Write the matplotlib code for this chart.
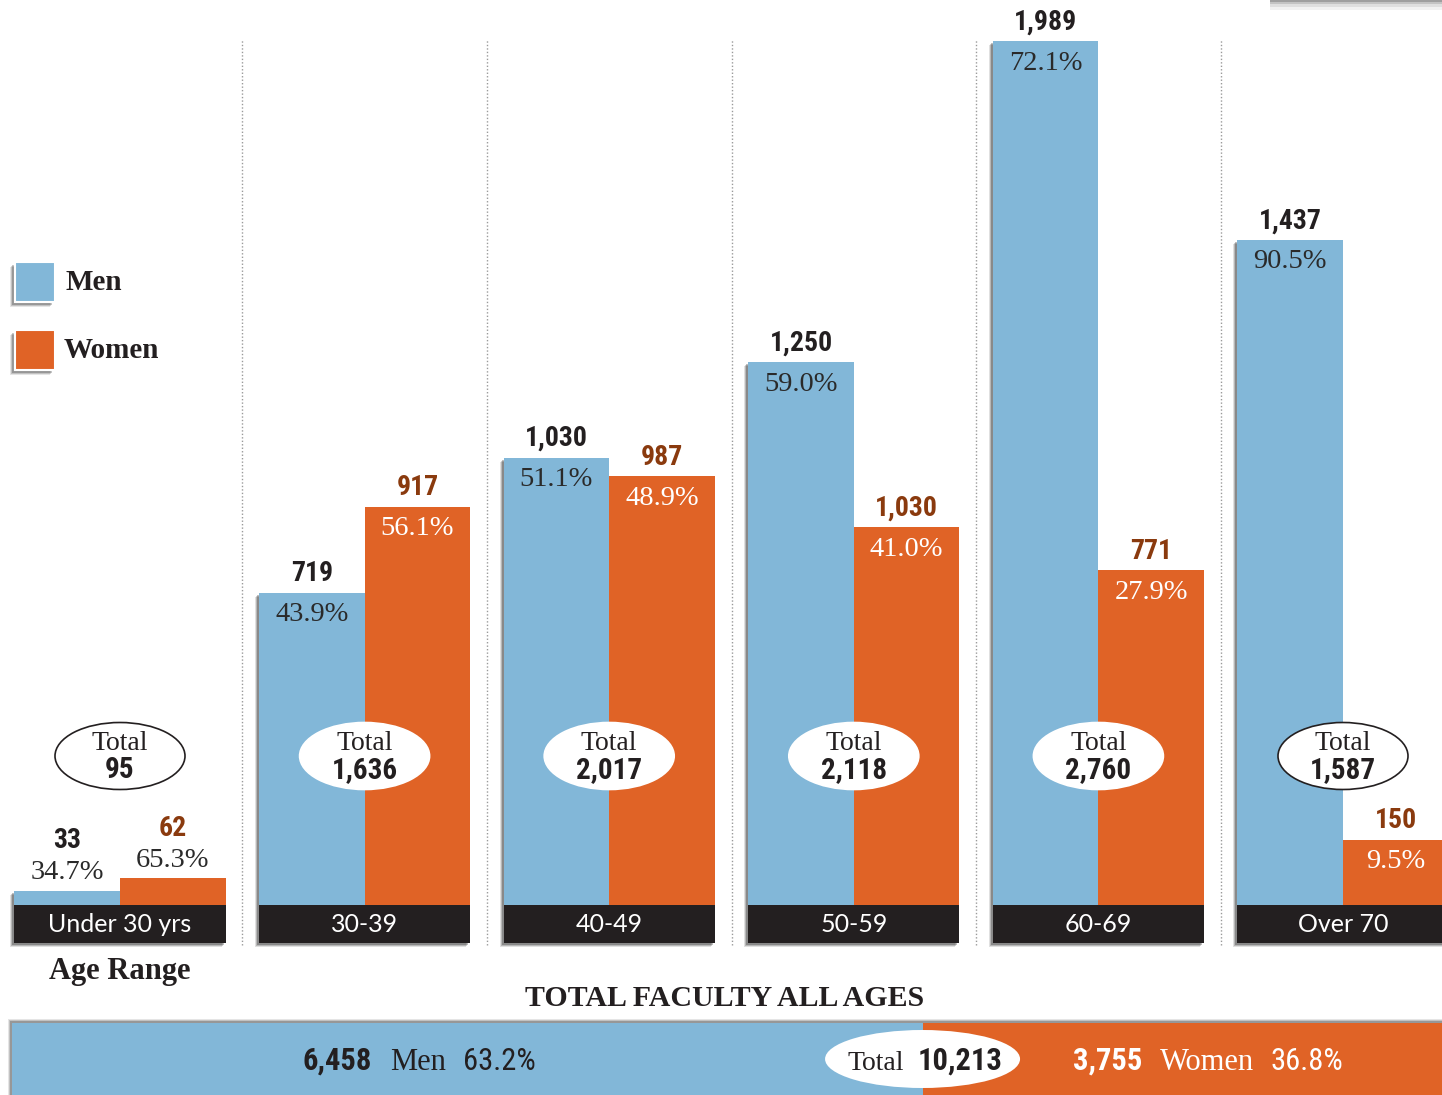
import numpy as np
import matplotlib.pyplot as plt
from matplotlib import font_manager as fm
from matplotlib.patches import Rectangle, Ellipse

# ---- data ----
age_groups = ['Under 30 yrs', '30-39', '40-49', '50-59', '60-69', 'Over 70']
# printed counts
men = [33, 719, 1030, 1250, 1989, 1437]
women = [62, 917, 987, 1030, 771, 150]
# bar heights as drawn in the graphic (two bars do not match their printed counts)
men_bar = [33, 719, 1030, 1250, 1989, 1531]
women_bar = [62, 917, 987, 870, 771, 150]
men_pct = ['34.7%', '43.9%', '51.1%', '59.0%', '72.1%', '90.5%']
women_pct = ['65.3%', '56.1%', '48.9%', '41.0%', '27.9%', '9.5%']
totals = [95, 1636, 2017, 2118, 2760, 1587]
total_men = 6458
total_women = 3755
total_all = 10213
total_men_pct = '63.2%'
total_women_pct = '36.8%'

# ---- style ----
BLUE = '#82b7d8'
ORANGE = '#e06326'
DARK = '#231f20'
BROWN = '#8a3a0e'
SERIF = 'Liberation Serif'
SANS = 'Lato'


def pick_narrow():
    # a condensed sans for the numbers, whichever one is installed
    entries = fm.fontManager.ttflist
    names = {f.name for f in entries}
    for n in ['Liberation Sans Narrow', 'Roboto Condensed', 'Open Sans Condensed',
              'DejaVu Sans Condensed']:
        if n in names:
            return dict(family=n), 1.0
    if any(f.name == 'DejaVu Sans' and 'condensed' in str(f.stretch) for f in entries):
        return dict(family='DejaVu Sans', stretch='condensed'), 0.92
    return dict(family='Roboto'), 0.88


NARROW, NSCALE = pick_narrow()

W, H = 1442, 1095
XP = 1 / 244.6          # data units per pixel (x)
YP = 1989 / 864         # data units per pixel (y)
BW = 105.6 * XP         # bar width


def fx(px):
    return px / W


def fy(py):
    return 1 - py / H


def fmt(v):
    return f'{v:,}'


def nfont(size, bold=True):
    d = dict(NARROW)
    d['fontsize'] = size * NSCALE
    if bold:
        d['weight'] = 'bold'
    return d


fig = plt.figure(figsize=(W / 100, H / 100), dpi=100)
fig.patch.set_facecolor('white')
ax = fig.add_axes([0, 0, 1, 1])
ax.set_xlim(-120 * XP, -120 * XP + W * XP)
ax.set_ylim(-(H - 905) * YP, 905 * YP)
ax.axis('off')

x = np.arange(len(age_groups))

# separators
for i in range(len(age_groups) - 1):
    ax.plot([i + 0.5, i + 0.5], [-40 * YP, 865 * YP], color='#9a9a9a',
            lw=1, ls=(0, (1, 1.5)), zorder=0)

# shadows
box_h = 38 * YP
for i in x:
    for k, a in [(4, 0.12), (3, 0.18), (2, 0.25)]:
        dx, dy = k * XP, k * YP
        ax.add_patch(Rectangle((i - BW - dx, -box_h - dy), 2 * BW, box_h, color='black',
                               alpha=a, lw=0, zorder=1))
        ax.add_patch(Rectangle((i - BW - dx, -dy), BW, men_bar[i], color='black',
                               alpha=a, lw=0, zorder=1))

ax.bar(x - BW / 2, men_bar, BW, color=BLUE, zorder=2, lw=0)
ax.bar(x + BW / 2, women_bar, BW, color=ORANGE, zorder=2, lw=0)

# label boxes
for i, g in enumerate(age_groups):
    ax.add_patch(Rectangle((i - BW, -box_h), 2 * BW, box_h, color=DARK, zorder=3, lw=0))
    ax.text(i, -box_h / 2, g, ha='center', va='center', color='white',
            fontsize=18, family=SANS, zorder=4)

# value labels
for i in x:
    for h, val, pct, xc, num_col, in_col in [
            (men_bar[i], men[i], men_pct[i], i - BW / 2, DARK, '#2a2a2a'),
            (women_bar[i], women[i], women_pct[i], i + BW / 2, BROWN, 'white')]:
        if h / YP < 50:
            ax.text(xc, h + 18 * YP, pct, ha='center', va='center', color='#2a2a2a',
                    fontsize=20.5, family=SERIF, zorder=4)
            ax.text(xc, h + 50 * YP, fmt(val), ha='center', va='center', color=num_col,
                    zorder=4, **nfont(20))
        else:
            ax.text(xc, h - 22 * YP, pct, ha='center', va='center', color=in_col,
                    fontsize=20.5, family=SERIF, zorder=4)
            ax.text(xc, h + 19 * YP, fmt(val), ha='center', va='center', color=num_col,
                    zorder=4, **nfont(20))

# total ellipses
ey = (905 - 756) * YP
for i, t in enumerate(totals):
    edge = DARK if i in (0, len(totals) - 1) else 'white'
    ax.add_patch(Ellipse((i, ey), 130 * XP, 67 * YP, facecolor='white',
                         edgecolor=edge, lw=1.2, zorder=5))
    ax.text(i, ey + 13 * YP, 'Total', ha='center', va='center', fontsize=20,
            family=SERIF, color=DARK, zorder=6)
    ax.text(i, ey - 14 * YP, fmt(t), ha='center', va='center', color=DARK, zorder=6,
            **nfont(21))

# legend
for py, col, lab, tx in [(262, BLUE, 'Men', 66), (330, ORANGE, 'Women', 64)]:
    for k, a in [(5, 0.10), (4, 0.15), (3, 0.22)]:
        fig.add_artist(Rectangle((fx(15 - k), fy(py + 40 + k)), 40 / W, 40 / H,
                                 transform=fig.transFigure, color='black', alpha=a, lw=0))
    fig.add_artist(Rectangle((fx(15), fy(py + 40)), 40 / W, 40 / H,
                             transform=fig.transFigure, facecolor=col, edgecolor='white', lw=1.5))
    fig.text(fx(tx), fy(py + 20), lab, ha='left', va='center', fontsize=21,
             family=SERIF, weight='bold', color=DARK)

fig.text(fx(120), fy(971), 'Age Range', ha='center', va='center', fontsize=22,
         family=SERIF, weight='bold', color=DARK)
fig.text(fx(725), fy(998), 'TOTAL FACULTY ALL AGES', ha='center', va='center',
         fontsize=21.5, family=SERIF, weight='bold', color=DARK)

# top-right shadow
for k, a in [(10, 0.05), (7, 0.08), (4, 0.12), (2, 0.18)]:
    fig.add_artist(Rectangle((fx(1270), fy(k)), 200 / W, k / H,
                             transform=fig.transFigure, color='black', alpha=a, lw=0))

# bottom total bar (shadow behind it)
for k, a in [(4, 0.10), (3, 0.15), (2, 0.22)]:
    fig.add_artist(Rectangle((fx(12 - k), 0), 1500 / W, (72 + k) / H,
                             transform=fig.transFigure, color='black', alpha=a, lw=0,
                             zorder=-1))
bx = fig.add_axes([12 / W, 0, 1440 / W, 72 / H])
bx.barh(0, total_men, height=1, color=BLUE, lw=0)
bx.barh(0, total_women, left=total_men, height=1, color=ORANGE, lw=0)
bx.set_xlim(0, total_all)
bx.set_ylim(-0.5, 0.5)
bx.axis('off')
bx.add_patch(Ellipse((total_men, 0), 195 / 1440 * total_all, 58 / 72,
                     facecolor='white', edgecolor='none', zorder=5))

base = fy(1070)
fig.text(fx(302), base, fmt(total_men), color=DARK, va='baseline', **nfont(22))
fig.text(fx(390), base, 'Men', fontsize=22, family=SERIF, color=DARK, va='baseline')
fig.text(fx(463), base, total_men_pct, color=DARK, va='baseline', **nfont(22, bold=False))
fig.text(fx(848), base, 'Total', fontsize=20, family=SERIF, color=DARK, va='baseline')
fig.text(fx(918), base, fmt(total_all), color=DARK, va='baseline', **nfont(22))
fig.text(fx(1073), base, fmt(total_women), color='white', va='baseline', **nfont(22))
fig.text(fx(1160), base, 'Women', fontsize=22, family=SERIF, color='white', va='baseline')
fig.text(fx(1270), base, total_women_pct, color='white', va='baseline',
         **nfont(22, bold=False))

fig.savefig('out.png', dpi=100)
